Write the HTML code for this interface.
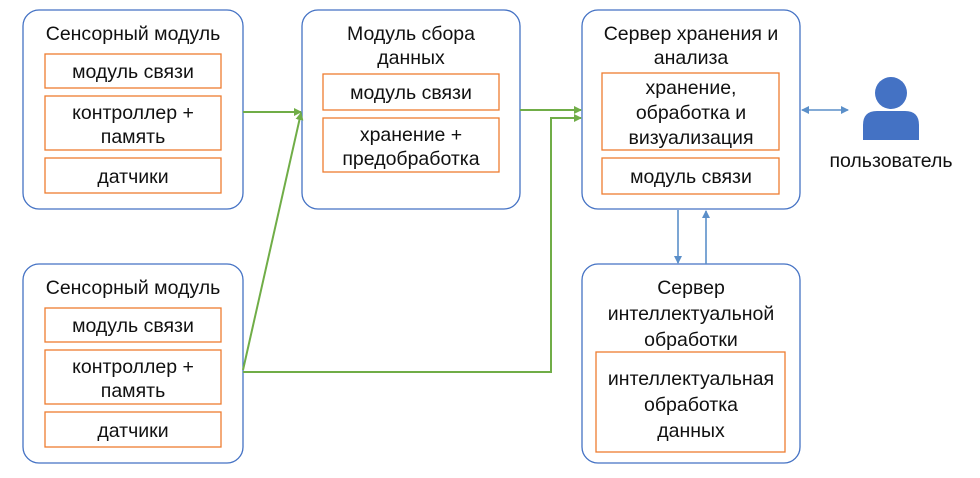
<!DOCTYPE html>
<html><head><meta charset="utf-8"><style>
body{margin:0;background:#fff}
text{font-family:"Liberation Sans","DejaVu Sans",sans-serif;font-size:19.5px;fill:#111;text-anchor:middle}
</style></head><body>
<svg width="980" height="473" viewBox="0 0 980 473">
<defs>
<marker id="g" markerWidth="8" markerHeight="8" refX="7" refY="4" orient="auto" markerUnits="userSpaceOnUse"><path d="M0,0 L8,4 L0,8 z" fill="#70ad47"/></marker>
<marker id="b" markerWidth="8" markerHeight="8" refX="7" refY="4" orient="auto-start-reverse" markerUnits="userSpaceOnUse"><path d="M0,0 L8,4 L0,8 z" fill="#5b8fc9"/></marker>
</defs>
<g fill="#fff" stroke="#4472c4" stroke-width="1.3">
<rect x="23" y="10" width="220" height="199" rx="16"/>
<rect x="23" y="264" width="220" height="199" rx="16"/>
<rect x="302" y="10" width="218" height="199" rx="16"/>
<rect x="582" y="10" width="218" height="199" rx="16"/>
<rect x="582" y="264" width="218" height="199" rx="16"/>
</g>
<g fill="#fff" stroke="#ed7d31" stroke-width="1.3">
<rect x="45" y="54" width="176" height="34"/><rect x="45" y="96" width="176" height="54"/><rect x="45" y="158" width="176" height="35"/>
<rect x="45" y="308" width="176" height="34"/><rect x="45" y="350" width="176" height="54"/><rect x="45" y="412" width="176" height="35"/>
<rect x="323" y="74" width="176" height="36"/><rect x="323" y="118" width="176" height="54"/>
<rect x="602" y="73" width="177" height="77"/><rect x="602" y="158" width="177" height="36"/>
<rect x="596" y="352" width="189" height="100"/>
</g>
<g fill="none" stroke="#70ad47" stroke-width="2">
<line x1="243" y1="112" x2="301" y2="112" marker-end="url(#g)"/>
<line x1="243" y1="370" x2="301" y2="113" marker-end="url(#g)"/>
<line x1="520" y1="110" x2="581" y2="110" marker-end="url(#g)"/>
<polyline points="243,372 551,372 551,118 581,118" marker-end="url(#g)"/>
</g>
<g fill="none" stroke="#5b8fc9" stroke-width="1.6">
<line x1="802" y1="110" x2="848" y2="110" marker-start="url(#b)" marker-end="url(#b)"/>
<line x1="678" y1="210" x2="678" y2="263" marker-end="url(#b)"/>
<line x1="706" y1="264" x2="706" y2="211" marker-end="url(#b)"/>
</g>
<circle cx="891" cy="93" r="16" fill="#4472c4"/>
<path d="M863,140 L863,125 Q863,111 877,111 L905,111 Q919,111 919,125 L919,140 Z" fill="#4472c4"/>
<text x="891" y="167">пользователь</text>
<text x="133" y="40">Сенсорный модуль</text>
<text x="133" y="78">модуль связи</text>
<text x="133" y="119">контроллер +</text><text x="133" y="143">память</text>
<text x="133" y="183">датчики</text>
<text x="133" y="294">Сенсорный модуль</text>
<text x="133" y="332">модуль связи</text>
<text x="133" y="373">контроллер +</text><text x="133" y="397">память</text>
<text x="133" y="437">датчики</text>
<text x="411" y="40">Модуль сбора</text><text x="411" y="64">данных</text>
<text x="411" y="99">модуль связи</text>
<text x="411" y="141">хранение +</text><text x="411" y="165">предобработка</text>
<text x="691" y="40">Сервер хранения и</text><text x="691" y="64">анализа</text>
<text x="691" y="94">хранение,</text><text x="691" y="119">обработка и</text><text x="691" y="144">визуализация</text>
<text x="691" y="183">модуль связи</text>
<text x="691" y="294">Сервер</text><text x="691" y="320">интеллектуальной</text><text x="691" y="346">обработки</text>
<text x="691" y="385">интеллектуальная</text><text x="691" y="411">обработка</text><text x="691" y="437">данных</text>
</svg>
</body></html>
